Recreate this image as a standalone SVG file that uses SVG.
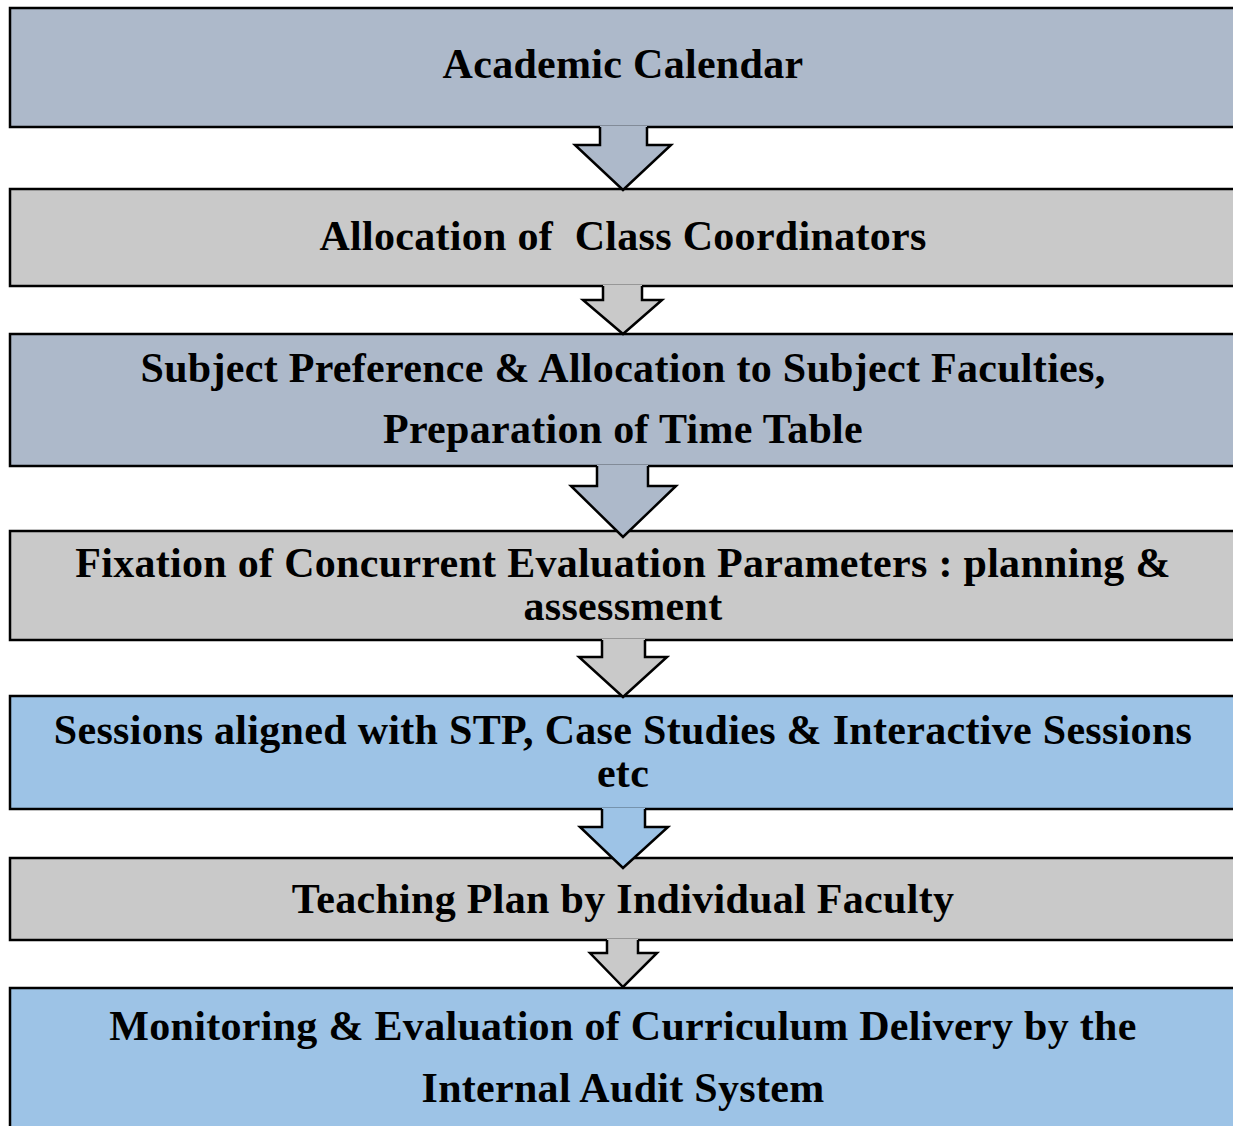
<svg xmlns="http://www.w3.org/2000/svg" width="1233" height="1126" viewBox="0 0 1233 1126">
<style>
.box{stroke:#000;stroke-width:2.5}
.blue{fill:#adb9ca}
.grey{fill:#c9c9c9}
.lb{fill:#9dc3e6}
.t{font-family:"Liberation Serif","Times New Roman",serif;font-weight:bold;font-size:42px;letter-spacing:0.3px;fill:#000;text-anchor:middle;white-space:pre}
.af{stroke:none}
.as{fill:none;stroke:#000;stroke-width:2.5;stroke-linejoin:miter}
</style>
<rect width="1233" height="1126" fill="#fff"/>
<g id="n1"><rect class="box blue" x="10" y="8" width="1240" height="119"/><text class="t" x="623" y="78">Academic Calendar</text></g>
<g id="n2"><rect class="box grey" x="10" y="189" width="1240" height="97"/><text class="t" x="623" y="250" xml:space="preserve">Allocation of  Class Coordinators</text></g>
<g id="n3"><rect class="box blue" x="10" y="334" width="1240" height="132"/><text class="t" x="623" y="382">Subject Preference &amp; Allocation to Subject Faculties,</text><text class="t" x="623" y="443">Preparation of Time Table</text></g>
<g id="n4"><rect class="box grey" x="10" y="531" width="1240" height="109"/><text class="t" x="623" y="577">Fixation of Concurrent Evaluation Parameters : planning &amp;</text><text class="t" x="623" y="620">assessment</text></g>
<g id="n5"><rect class="box lb" x="10" y="696" width="1240" height="113"/><text class="t" x="623" y="744">Sessions aligned with STP, Case Studies &amp; Interactive Sessions</text><text class="t" x="623" y="787">etc</text></g>
<g id="n6"><rect class="box grey" x="10" y="858" width="1240" height="82"/><text class="t" x="623" y="913">Teaching Plan by Individual Faculty</text></g>
<g id="n7"><rect class="box lb" x="10" y="988" width="1240" height="160"/><text class="t" x="623" y="1040">Monitoring &amp; Evaluation of Curriculum Delivery by the</text><text class="t" x="623" y="1102">Internal Audit System</text></g>
<g id="connectors">
<g id="a1"><polygon class="af blue" points="600,126 600,145 575,145 623,190 671,145 647,145 647,126"/><polyline class="as" points="600,127 600,145 575,145 623,190 671,145 647,145 647,127"/></g>
<g id="a2"><polygon class="af grey" points="603,285 603,300 583,300 623,334 662,300 642,300 642,285"/><polyline class="as" points="603,286 603,300 583,300 623,334 662,300 642,300 642,286"/></g>
<g id="a3"><polygon class="af blue" points="597,465 597,486 571,486 623,537 676,486 648,486 648,465"/><polyline class="as" points="597,466 597,486 571,486 623,537 676,486 648,486 648,466"/></g>
<g id="a4"><polygon class="af grey" points="602,639 602,657 579,657 623,697 667,657 645,657 645,639"/><polyline class="as" points="602,640 602,657 579,657 623,697 667,657 645,657 645,640"/></g>
<g id="a5"><polygon class="af lb" points="602,808 602,827 580,827 623,868 668,827 645,827 645,808"/><polyline class="as" points="602,809 602,827 580,827 623,868 668,827 645,827 645,809"/></g>
<g id="a6"><polygon class="af grey" points="607,939 607,953 590,953 623,987 657,953 638,953 638,939"/><polyline class="as" points="607,940 607,953 590,953 623,987 657,953 638,953 638,940"/></g>
</g>
</svg>
